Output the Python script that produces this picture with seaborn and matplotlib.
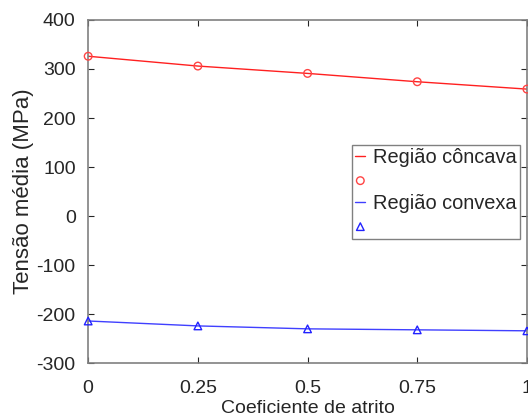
import numpy as np
import pandas as pd
import matplotlib
matplotlib.use('Agg')
import matplotlib.pyplot as plt
import seaborn as sns

# Data
atrito = [0, 0.25, 0.5, 0.75, 1]
concava = [326, 306, 291, 274, 259]
convexa = [-214, -224, -230, -232, -234]

df = pd.DataFrame({'atrito': atrito, 'concava': concava, 'convexa': convexa})

sns.set_style('white')
plt.rcParams['font.family'] = ['Liberation Sans', 'DejaVu Sans']
plt.rcParams['axes.unicode_minus'] = False

fig = plt.figure(figsize=(5.28, 4.16), dpi=100)
ax = fig.add_axes([0.167, 0.127, 0.831, 0.825])

sns.lineplot(data=df, x='atrito', y='concava', color='#ff2020', lw=1, ax=ax, label='Região côncava')
sns.scatterplot(data=df, x='atrito', y='concava', marker='o', s=30, facecolor='none',
                edgecolor='#ff4444', linewidth=1, ax=ax, label=' ', clip_on=False, zorder=5)
sns.lineplot(data=df, x='atrito', y='convexa', color='#4040ff', lw=1, ax=ax, label='Região convexa')
sns.scatterplot(data=df, x='atrito', y='convexa', marker='^', s=30, facecolor='none',
                edgecolor='#2222ff', linewidth=1, ax=ax, label='  ', clip_on=False, zorder=5)

ax.set_xlim(0, 1)
ax.set_ylim(-300, 400)
ax.set_xticks([0, 0.25, 0.5, 0.75, 1])
ax.set_xticklabels(['0', '0.25', '0.5', '0.75', '1'])
ax.set_yticks(range(-300, 401, 100))
ax.set_xlabel('Coeficiente de atrito', fontsize=14, color='#262626', labelpad=2)
ax.set_ylabel('Tensão média (MPa)', fontsize=16, color='#262626', labelpad=2)
ax.tick_params(axis='both', which='both', direction='in', length=4, width=0.8,
               color='#262626', labelsize=14, labelcolor='#262626',
               top=True, right=True, bottom=True, left=True)
ax.tick_params(axis='y', pad=9)
ax.tick_params(axis='x', pad=12)
for s in ax.spines.values():
    s.set_color('#808080')
    s.set_linewidth(1.2)
    s.set_visible(True)

leg = ax.legend(loc='upper left', bbox_to_anchor=(0.602, 0.636), fontsize=14.4,
                handlelength=0.5, handletextpad=0.4, borderpad=0.15, labelspacing=0.2,
                frameon=True, fancybox=False, edgecolor='#808080', framealpha=1,
                borderaxespad=0)
leg.get_frame().set_linewidth(1)

plt.savefig('out.png', dpi=100)
